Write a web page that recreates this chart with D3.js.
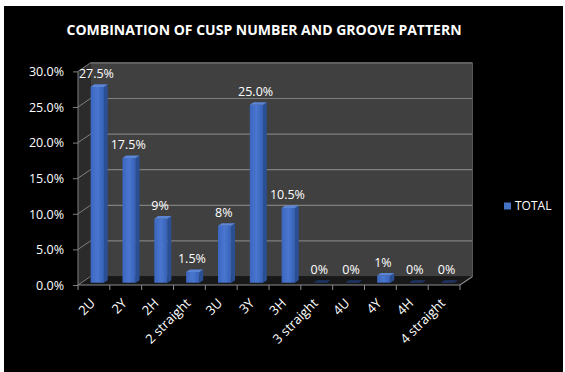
<!DOCTYPE html>
<html><head><meta charset="utf-8">
<script src="https://cdn.jsdelivr.net/npm/d3@7"></script>
<style>html,body{margin:0;padding:0;background:#fff;}svg{display:block;}</style>
</head><body>
<svg id="c" width="565" height="372"></svg>
<script>
const categories = ["2U","2Y","2H","2 straight","3U","3Y","3H","3 straight","4U","4Y","4H","4 straight"];
const values = [0.275,0.175,0.09,0.015,0.08,0.25,0.105,0,0,0.01,0,0];
const valueLabels = ["27.5%","17.5%","9%","1.5%","8%","25.0%","10.5%","0%","0%","1%","0%","0%"];
const yTicks = [0,0.05,0.10,0.15,0.20,0.25,0.30];
const seriesName = "TOTAL";
const title = "COMBINATION OF CUSP NUMBER AND GROOVE PATTERN";

const svg = d3.select("#c");
const font = "'Open Sans', sans-serif";
svg.append("rect").attr("x",4).attr("y",6).attr("width",559).attr("height",366).attr("fill","#000");

const x = d3.scaleBand().domain(categories).range([78,460]);
const y = d3.scaleLinear().domain([0,0.30]).range([285,71.4]);
const DX = 12.5, DY = -8.5;
const P = (px,py,d)=>[px+DX*d, py+DY*d];
const poly = pts => pts.map(p=>p.join(",")).join(" ");

const defs = svg.append("defs");
const g1 = defs.append("linearGradient").attr("id","face").attr("x1",0).attr("x2",1).attr("y1",0).attr("y2",0);
g1.append("stop").attr("offset","0").attr("stop-color","#3a66c0");
g1.append("stop").attr("offset","0.5").attr("stop-color","#4a76cf");
g1.append("stop").attr("offset","1").attr("stop-color","#3560b5");

const x0 = x.range()[0], x1 = x.range()[1];
const yTop = y(0.30), y0 = y(0);
// side wall
svg.append("polygon").attr("points",poly([[x0,y0],P(x0,y0,1),P(x0,yTop,1),[x0,yTop]])).attr("fill","#2b2b2b");
// back wall
svg.append("polygon").attr("points",poly([P(x0,yTop,1),P(x1,yTop,1),P(x1,y0,1),P(x0,y0,1)])).attr("fill","#404040");
// floor
svg.append("polygon").attr("points",poly([[x0,y0],[x1,y0],P(x1,y0,1),P(x0,y0,1)])).attr("fill","#181818");
// gridlines
yTicks.forEach(t=>{
  const yy = y(t);
  if (t>0) svg.append("line").attr("x1",P(x0,yy,1)[0]).attr("y1",P(x0,yy,1)[1]).attr("x2",P(x1,yy,1)[0]).attr("y2",P(x1,yy,1)[1]).attr("stroke","#7f7f7f").attr("stroke-width",1.2);
  svg.append("line").attr("x1",x0).attr("y1",yy).attr("x2",P(x0,yy,1)[0]).attr("y2",P(x0,yy,1)[1]).attr("stroke","#7f7f7f").attr("stroke-width",1);
});
// right edge of back wall
svg.append("line").attr("x1",P(x1,yTop,1)[0]).attr("y1",P(x1,yTop,1)[1]).attr("x2",P(x1,y0,1)[0]).attr("y2",P(x1,y0,1)[1]).attr("stroke","#555").attr("stroke-width",1);
// left front axis line
svg.append("line").attr("x1",x0).attr("y1",yTop).attr("x2",x0).attr("y2",y0).attr("stroke","#7f7f7f");
// bottom front axis + right diagonal
svg.append("polyline").attr("points",poly([[x0,y0],[x1,y0],P(x1,y0,1)])).attr("fill","none").attr("stroke","#8c8c8c").attr("stroke-width",1.2);

// y axis ticks & labels
const yAxis = d3.axisLeft(y).tickValues(yTicks).tickSize(5).tickFormat(d3.format(".1%"));
const ya = svg.append("g").attr("transform",`translate(${x0},0)`).call(yAxis);
ya.select(".domain").remove();
ya.selectAll("line").attr("stroke","#7f7f7f");
ya.selectAll("text").attr("fill","#fff").attr("font-family",font).attr("font-size","12.5px").attr("x",-14).attr("dy","0.35em");

// x axis ticks at band boundaries
const bounds = categories.map(c=>x(c)).concat([x1]);
svg.append("g").selectAll("line").data(bounds).join("line")
  .attr("x1",d=>d).attr("x2",d=>d).attr("y1",y0).attr("y2",y0+5).attr("stroke","#8c8c8c");
// x labels
svg.append("g").selectAll("text").data(categories).join("text")
  .attr("transform",d=>`translate(${x(d)+x.bandwidth()/2+2},${y0+19}) rotate(-45)`)
  .attr("text-anchor","end").attr("fill","#fff").attr("font-family",font).attr("font-size","13px").text(d=>d);

// bars
const d0 = 0.27, d1 = 0.57, bw = 13.3;
const bars = svg.append("g");
categories.forEach((c,i)=>{
  const v = values[i];
  const cx = x(c)+x.bandwidth()/2;
  const L = cx-bw/2, R = cx+bw/2;
  const yb = y(0), yt = y(v);
  const fL_b = P(L,yb,d0), fR_b = P(R,yb,d0), fL_t = P(L,yt,d0), fR_t = P(R,yt,d0);
  const bR_t = P(R,yt,d1), bR_b = P(R,yb,d1), bL_t = P(L,yt,d1);
  if (v>0){
    bars.append("polygon").attr("points",poly([fR_b,bR_b,bR_t,fR_t])).attr("fill","#2a4f93");
    bars.append("polygon").attr("points",poly([fL_t,fR_t,fR_b,fL_b])).attr("fill","url(#face)");
    bars.append("polygon").attr("points",poly([fL_t,bL_t,bR_t,fR_t])).attr("fill","#5b85d6");
  } else {
    bars.append("polygon").attr("points",poly([fL_t,bL_t,bR_t,fR_t])).attr("fill","#1f3566");
  }
  svg.append("text").attr("x",cx+2.5).attr("y",fL_t[1]-9).attr("text-anchor","middle")
    .attr("fill","#fff").attr("font-family",font).attr("font-size","12.5px").text(valueLabels[i]);
});

// title
svg.append("text").attr("x",264).attr("y",35).attr("text-anchor","middle").attr("fill","#fff")
  .attr("font-family",font).attr("font-weight","bold").attr("font-size","14px").text(title);

// legend
svg.append("rect").attr("x",504).attr("y",202.5).attr("width",7).attr("height",7).attr("fill","#4472c4");
svg.append("text").attr("x",515).attr("y",206).attr("dy","0.35em").attr("fill","#fff")
  .attr("font-family",font).attr("font-size","12px").text(seriesName);
</script>
</body></html>
